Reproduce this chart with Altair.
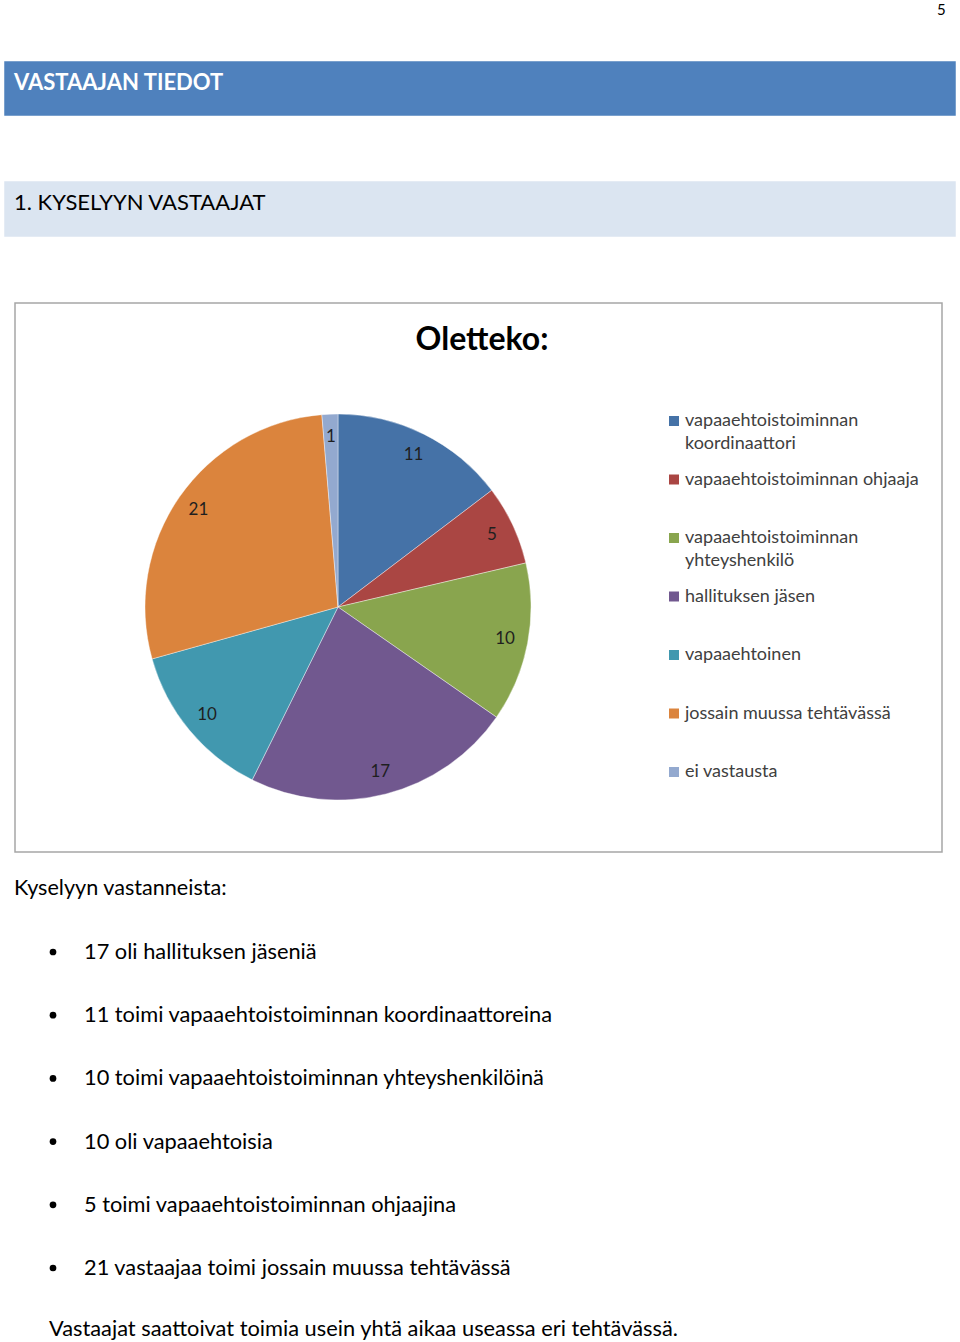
import altair as alt
import pandas as pd

# ---- data ----
categories = [
    "vapaaehtoistoiminnan koordinaattori",
    "vapaaehtoistoiminnan ohjaaja",
    "vapaaehtoistoiminnan yhteyshenkilö",
    "hallituksen jäsen",
    "vapaaehtoinen",
    "jossain muussa tehtävässä",
    "ei vastausta",
]
legend_lines = [
    ["vapaaehtoistoiminnan", "koordinaattori"],
    ["vapaaehtoistoiminnan ohjaaja"],
    ["vapaaehtoistoiminnan", "yhteyshenkilö"],
    ["hallituksen jäsen"],
    ["vapaaehtoinen"],
    ["jossain muussa tehtävässä"],
    ["ei vastausta"],
]
values = [11, 5, 10, 17, 10, 21, 1]
colors = ["#4572A7", "#AA4643", "#89A54E", "#71588F", "#4198AF", "#DB843D", "#93A9CF"]

intro = "Kyselyyn vastanneista:"
bullets = [
    "17 oli hallituksen jäseniä",
    "11 toimi vapaaehtoistoiminnan koordinaattoreina",
    "10 toimi vapaaehtoistoiminnan yhteyshenkilöinä",
    "10 oli vapaaehtoisia",
    "5 toimi vapaaehtoistoiminnan ohjaajina",
    "21 vastaajaa toimi jossain muussa tehtävässä",
]
closing = "Vastaajat saattoivat toimia usein yhtä aikaa useassa eri tehtävässä."

W, H = 960, 1342
FONT = "Lato"

xs = alt.Scale(domain=[0, W], range=[0, W])
ys = alt.Scale(domain=[0, H], range=[0, H])

def X(f):
    return alt.X(f, type="quantitative", scale=xs, axis=None)

def Y(f):
    return alt.Y(f, type="quantitative", scale=ys, axis=None)

# ---- background bands / chart box ----
rects = pd.DataFrame([
    {"x": 5, "x2": 955, "y": 62, "y2": 115, "fill": "#4F81BD", "stroke": "#4F81BD"},
    {"x": 5, "x2": 955, "y": 182, "y2": 236, "fill": "#DBE5F1", "stroke": "#DBE5F1"},
    {"x": 15, "x2": 942, "y": 303, "y2": 852, "fill": "#FFFFFF", "stroke": "#A6A6A6"},
])
rect_layer = alt.Chart(rects).mark_rect(strokeWidth=1.5).encode(
    x=X("x"), x2="x2", y=Y("y"), y2="y2",
    fill=alt.Fill("fill:N", scale=None),
    stroke=alt.Stroke("stroke:N", scale=None),
)

# ---- pie ----
pie_df = pd.DataFrame({"category": categories, "value": values, "idx": list(range(len(values)))})
color_scale = alt.Scale(domain=categories, range=colors)
base_pie = alt.Chart(pie_df).encode(
    theta=alt.Theta("value:Q", stack=True),
    order=alt.Order("idx:Q"),
)
arcs = base_pie.mark_arc(radius=193, stroke="#FFFFFF", strokeWidth=0.4).encode(
    color=alt.Color("category:N", scale=color_scale, legend=None),
    x=alt.value(338), y=alt.value(607),
)
arc_labels = base_pie.mark_text(radius=170, fontSize=17, font=FONT, color="#1F1F1F").encode(
    text="value:Q", x=alt.value(338), y=alt.value(607),
)

# ---- legend ----
leg_y = [421 + i * 58.5 for i in range(len(categories))]
leg_sq = pd.DataFrame({"category": categories, "x": [674] * len(categories), "y": leg_y})
legend_squares = alt.Chart(leg_sq).mark_square(size=100, opacity=1).encode(
    x=X("x"), y=Y("y"),
    color=alt.Color("category:N", scale=color_scale, legend=None),
)
leg_txt = pd.DataFrame({"text": legend_lines, "x": [685] * len(categories), "y": leg_y})
legend_text = alt.Chart(leg_txt).mark_text(
    align="left", baseline="middle", fontSize=18, font=FONT, color="#404040", lineHeight=23
).encode(x=X("x"), y=Y("y"), text="text")

# ---- page texts ----
normal_texts = pd.DataFrame([
    {"t": "5", "x": 937, "y": 10, "size": 15},
    {"t": "1. KYSELYYN VASTAAJAT", "x": 14, "y": 203, "size": 22},
    {"t": intro, "x": 14, "y": 889, "size": 21.6},
    {"t": closing, "x": 49, "y": 1329, "size": 21.8},
] + [
    {"t": b, "x": 84, "y": 952 + i * 63.2, "size": 21.8}
    for i, b in enumerate(bullets)
])
text_layer = alt.Chart(normal_texts).mark_text(
    align="left", baseline="middle", font=FONT, color="#000000"
).encode(
    x=X("x"), y=Y("y"), text="t:N",
    size=alt.Size("size:Q", scale=None),
)

header = alt.Chart(pd.DataFrame({"t": ["VASTAAJAN TIEDOT"], "x": [14], "y": [83]})).mark_text(
    align="left", baseline="middle", font=FONT, fontSize=22, fontWeight="bold", color="#FFFFFF"
).encode(x=X("x"), y=Y("y"), text="t")

dots = pd.DataFrame({"x": [53] * len(bullets), "y": [952 + i * 63.2 for i in range(len(bullets))]})
dot_layer = alt.Chart(dots).mark_circle(size=45, color="#000000", opacity=1).encode(x=X("x"), y=Y("y"))

title = alt.Chart(pd.DataFrame({"t": ["Oletteko:"], "x": [482], "y": [340]})).mark_text(
    align="center", baseline="middle", font=FONT, fontSize=32, fontWeight="bold", color="#000000"
).encode(x=X("x"), y=Y("y"), text="t")

chart = alt.layer(
    rect_layer, arcs, arc_labels, legend_squares, legend_text, text_layer, header, dot_layer, title
).properties(
    width=W, height=H, padding=0, background="#FFFFFF",
    autosize=alt.AutoSizeParams(type="none"),
).configure_view(strokeWidth=0)

chart.save("out.html", embed_options={"renderer": "svg", "actions": False})
